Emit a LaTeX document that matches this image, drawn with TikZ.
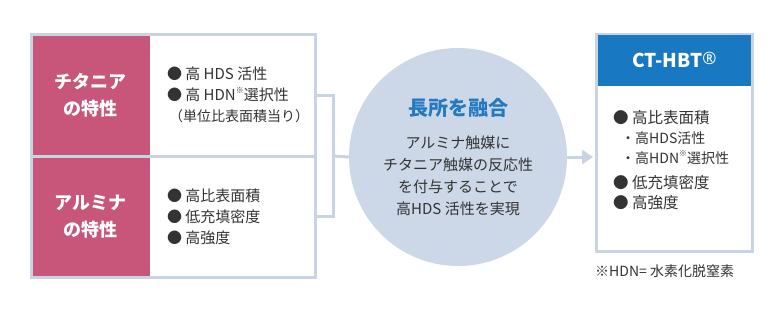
\documentclass[tikz,border=0pt]{standalone}
\usepackage{fontspec}
\setmainfont{Noto Sans CJK JP}
\newfontfamily\regfont{Noto Sans}
\usepackage{xcolor}
\usetikzlibrary{arrows.meta}

\definecolor{tipink}{HTML}{C8567B}
\definecolor{frameblue}{HTML}{C9D4E2}
\definecolor{mergefill}{HTML}{CCD8E8}
\definecolor{headblue}{HTML}{1878C2}
\definecolor{titleblue}{HTML}{2479C1}
\definecolor{bodytext}{HTML}{333333}

\newcommand{\kome}{\raisebox{.5em}{\fontsize{8}{8}\selectfont ※}}
\newcommand{\regmark}{\raisebox{3.5pt}{\regfont\fontsize{17}{17}\selectfont ®}}

\tikzset{
  cell/.style={rectangle,inner sep=0pt,minimum width=165.5pt,minimum height=121.5pt,fill=white},
  label/.style={rectangle,inner sep=0pt,minimum width=118.5pt,minimum height=121.5pt,fill=tipink,
    text=white,align=center,font=\fontsize{18}{27}\selectfont\bfseries},
  items/.style={anchor=west,inner sep=0pt,align=left,text=bodytext,font=\fontsize{15}{21}\selectfont},
  frame/.style={draw=frameblue,line width=3pt},
  link/.style={draw=frameblue,line width=3pt},
}

\begin{document}
\begin{tikzpicture}[x=1pt,y=-1pt]
    \useasboundingbox (0,0) rectangle (783,313);

    % left table
    \node[label] (tilabel) at (90.75,95.25) {チタニア\\の特性};
    \node[label] (allabel) at (90.75,216.75) {アルミナ\\の特性};
    \node[cell] (tiprop) at (232.75,95.25) {};
    \node[cell] (alprop) at (232.75,216.75) {};
    \draw[frame] (tilabel.north west) rectangle (alprop.south east);
    \draw[frame] (tilabel.south west) -- (tiprop.south east);

    \node[items] (tiitems) at ([xshift=17pt]tiprop.west)
      {● 高 HDS 活性\\● 高 HDN\kome 選択性\\\hspace*{2pt}{\fontsize{14}{21}\selectfont（単位比表面積当り）}};
    \node[items] (alitems) at ([xshift=17pt]alprop.west)
      {● 高比表面積\\● 低充填密度\\● 高強度};

    % merge circle
    \node[circle,fill=mergefill,minimum size=218pt,inner sep=0pt,align=center,
      text=bodytext,font=\fontsize{15}{22}\selectfont] (merge) at (458,157)
      {{\fontsize{20}{22}\selectfont\bfseries\color{titleblue}長所を融合}\\[11pt]
       アルミナ触媒に\\チタニア触媒の反応性\\を付与することで\\高HDS 活性を実現};

    \coordinate (join) at (333,156);
    \draw[link] (tiprop.east) -| (join);
    \draw[link] (alprop.east) -| (join);
    \draw[link] (join) -- (merge.west);

    % result box
    \node[rectangle,frame,fill=white,minimum width=156pt,minimum height=217pt,inner sep=0pt]
      (hbt) at (674.5,143) {};
    \node[rectangle,fill=headblue,minimum width=153pt,minimum height=51pt,inner sep=0pt,
      anchor=north,text=white,font=\fontsize{19}{19}\selectfont\bfseries]
      (hbthead) at ([yshift=-1.5pt]hbt.north) {CT-HBT\regmark};
    \node[items,font=\fontsize{15.5}{20}\selectfont] (hbtitems) at (613,160.5)
      {● 高比表面積\\
       {\fontsize{14}{20}\selectfont\hspace*{8pt}・高HDS活性}\\
       {\fontsize{14}{20}\selectfont\hspace*{8pt}・高HDN\kome 選択性}\\[5pt]
       ● 低充填密度\\● 高強度};

    \draw[link,-{Triangle[length=11pt,width=14pt]},shorten >=2pt]
      (merge.east) -- (merge.east -| hbt.west);

    \node[anchor=west,inner sep=0pt,text=bodytext,font=\fontsize{14}{14}\selectfont]
      (hdnnote) at (595,271) {※HDN= 水素化脱窒素};
  \end{tikzpicture}
\end{document}
